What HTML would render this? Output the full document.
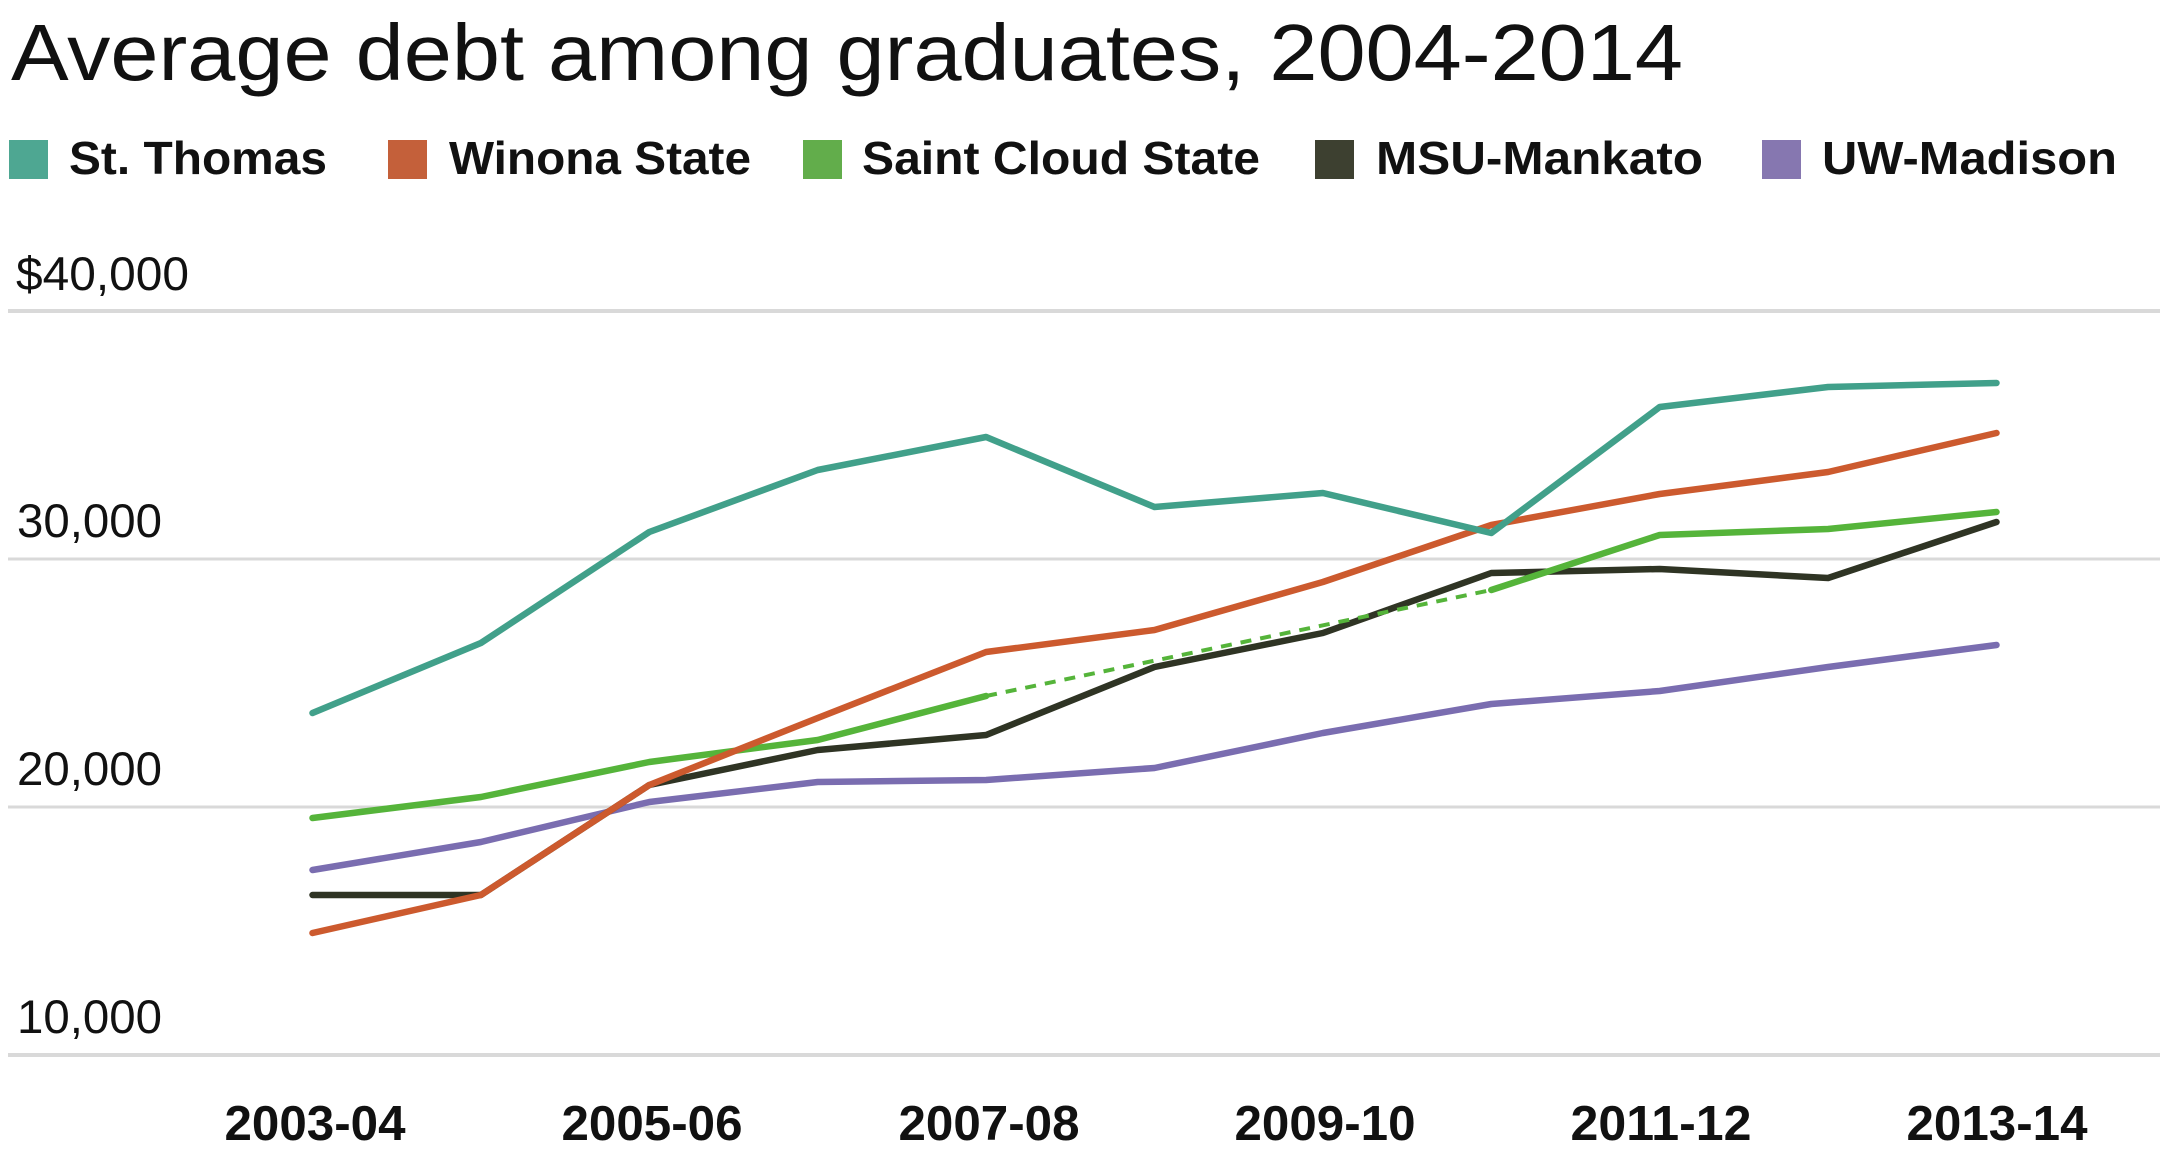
<!DOCTYPE html>
<html>
<head>
<meta charset="utf-8">
<style>
  html, body { margin: 0; padding: 0; background: #ffffff; }
  body { width: 2160px; height: 1159px; overflow: hidden; }
  svg { display: block; }
  text { font-family: "Liberation Sans", Arial, sans-serif; fill: #111111; }
</style>
</head>
<body>
<svg width="2160" height="1159" viewBox="0 0 2160 1159" xmlns="http://www.w3.org/2000/svg">
  <rect x="0" y="0" width="2160" height="1159" fill="#ffffff"/>

  <!-- Title -->
  <text x="11" y="80" font-size="80" textLength="1672" lengthAdjust="spacingAndGlyphs">Average debt among graduates, 2004-2014</text>

  <!-- Legend -->
  <rect x="9" y="140" width="39" height="39" fill="#4ea792"/>
  <text x="69" y="174" font-size="46" font-weight="bold" textLength="258" lengthAdjust="spacingAndGlyphs">St. Thomas</text>
  <rect x="388" y="140" width="39" height="39" fill="#c4603a"/>
  <text x="449" y="174" font-size="46" font-weight="bold" textLength="302" lengthAdjust="spacingAndGlyphs">Winona State</text>
  <rect x="803" y="140" width="39" height="39" fill="#62ad4b"/>
  <text x="862" y="174" font-size="46" font-weight="bold" textLength="398" lengthAdjust="spacingAndGlyphs">Saint Cloud State</text>
  <rect x="1315" y="140" width="39" height="39" fill="#3d4030"/>
  <text x="1376" y="174" font-size="46" font-weight="bold" textLength="327" lengthAdjust="spacingAndGlyphs">MSU-Mankato</text>
  <rect x="1762" y="140" width="39" height="39" fill="#8677b0"/>
  <text x="1822" y="174" font-size="46" font-weight="bold" textLength="295" lengthAdjust="spacingAndGlyphs">UW-Madison</text>

  <!-- Gridlines -->
  <g stroke="#d9d9d9" stroke-width="3">
    <line x1="8" y1="311" x2="2160" y2="311" stroke-width="4"/>
    <line x1="8" y1="559" x2="2160" y2="559"/>
    <line x1="8" y1="807" x2="2160" y2="807"/>
    <line x1="8" y1="1055" x2="2160" y2="1055" stroke-width="4"/>
  </g>

  <!-- Y labels -->
  <text x="16" y="290" font-size="47" textLength="173" lengthAdjust="spacingAndGlyphs">$40,000</text>
  <text x="17" y="537" font-size="47" textLength="145" lengthAdjust="spacingAndGlyphs">30,000</text>
  <text x="17" y="785" font-size="47" textLength="145" lengthAdjust="spacingAndGlyphs">20,000</text>
  <text x="17" y="1033" font-size="47" textLength="145" lengthAdjust="spacingAndGlyphs">10,000</text>

  <!-- X labels -->
  <g font-size="49" font-weight="bold" text-anchor="middle">
    <text x="315" y="1140" textLength="181" lengthAdjust="spacingAndGlyphs">2003-04</text>
    <text x="652" y="1140" textLength="181" lengthAdjust="spacingAndGlyphs">2005-06</text>
    <text x="989" y="1140" textLength="181" lengthAdjust="spacingAndGlyphs">2007-08</text>
    <text x="1325" y="1140" textLength="181" lengthAdjust="spacingAndGlyphs">2009-10</text>
    <text x="1661" y="1140" textLength="181" lengthAdjust="spacingAndGlyphs">2011-12</text>
    <text x="1997" y="1140" textLength="181" lengthAdjust="spacingAndGlyphs">2013-14</text>
  </g>

  <!-- Series -->
  <g fill="none" stroke-width="6.5" stroke-linejoin="round" stroke-linecap="round">
    <!-- UW-Madison -->
    <polyline stroke="#7a6db0" points="312.5,870 480.9,842 649.3,802 817.7,782 986.1,780 1154.5,768 1322.9,733 1491.3,704 1659.7,691 1828.1,667 1996.5,645"/>
    <!-- MSU-Mankato -->
    <polyline stroke="#2f3424" points="312.5,895 480.9,895 649.3,785 817.7,750 986.1,735 1154.5,667 1322.9,633 1491.3,573 1659.7,569 1828.1,578 1996.5,522"/>
    <!-- Saint Cloud State -->
    <polyline stroke="#55b43a" points="312.5,818 480.9,797 649.3,762 817.7,740 986.1,696"/>
    <polyline stroke="#55b43a" stroke-width="4" stroke-dasharray="11,9" stroke-linecap="butt" points="986.1,696 1491.3,590"/>
    <polyline stroke="#55b43a" points="1491.3,590 1659.7,535 1828.1,529 1996.5,512"/>
    <!-- Winona State -->
    <polyline stroke="#cc5a2e" points="312.5,933 480.9,895 649.3,785 817.7,718 986.1,652 1154.5,630 1322.9,582 1491.3,525 1659.7,494 1828.1,472 1996.5,433"/>
    <!-- St. Thomas -->
    <polyline stroke="#41a08a" points="312.5,713 480.9,643 649.3,532 817.7,470 986.1,437 1154.5,507 1322.9,493 1491.3,533 1659.7,407 1828.1,387 1996.5,383"/>
  </g>
</svg>
</body>
</html>
